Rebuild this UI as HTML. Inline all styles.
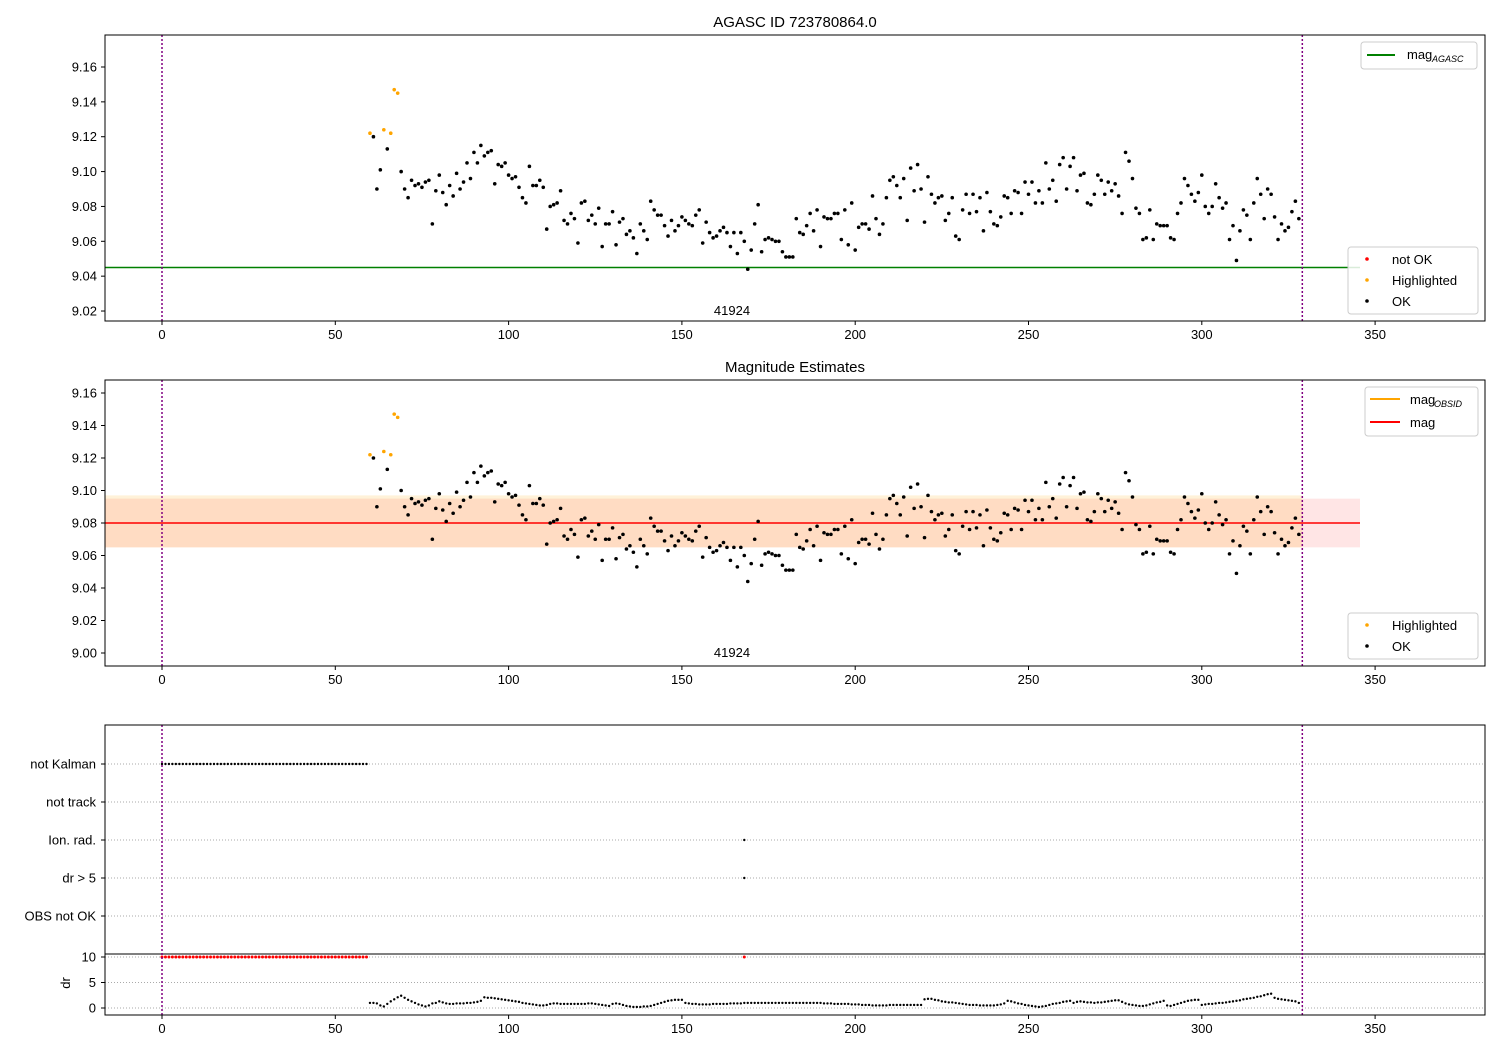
<!DOCTYPE html>
<html><head><meta charset="utf-8"><style>
body{margin:0;background:#fff}
svg{font-family:"Liberation Sans",sans-serif;display:block}
</style></head><body>
<svg id="fig" width="1500" height="1050" viewBox="0 0 1500 1050" xmlns="http://www.w3.org/2000/svg">
<rect width="1500" height="1050" fill="#fff"/>
<text x="795" y="27" font-size="15" text-anchor="middle">AGASC ID 723780864.0</text>
<text x="795" y="372" font-size="15" text-anchor="middle">Magnitude Estimates</text>
<g id="p1"></g>
<g id="p2"></g>
<g id="p3"></g>
</svg>
<script>
const obsX=[];for(let i=60;i<=328;i++)obsX.push(i);
const mags=[9.122,9.120,9.090,9.101,9.124,9.113,9.122,9.147,9.145,9.100,9.090,9.085,9.095,9.092,9.093,9.091,9.094,9.095,9.070,9.089,9.098,9.088,9.081,9.092,9.086,9.099,9.090,9.094,9.105,9.096,9.111,9.105,9.115,9.109,9.111,9.112,9.093,9.104,9.103,9.105,9.098,9.096,9.097,9.091,9.085,9.082,9.103,9.092,9.092,9.095,9.091,9.067,9.080,9.081,9.082,9.089,9.072,9.070,9.076,9.073,9.059,9.082,9.083,9.072,9.075,9.070,9.079,9.057,9.070,9.070,9.077,9.058,9.071,9.073,9.064,9.066,9.062,9.053,9.070,9.066,9.061,9.083,9.078,9.075,9.075,9.069,9.063,9.072,9.066,9.069,9.074,9.072,9.070,9.069,9.075,9.078,9.059,9.071,9.065,9.062,9.063,9.066,9.068,9.065,9.057,9.065,9.053,9.065,9.060,9.044,9.055,9.070,9.081,9.054,9.061,9.062,9.061,9.060,9.060,9.054,9.051,9.051,9.051,9.073,9.065,9.064,9.069,9.076,9.066,9.078,9.057,9.074,9.073,9.073,9.076,9.076,9.061,9.078,9.058,9.082,9.055,9.068,9.070,9.070,9.067,9.086,9.073,9.064,9.070,9.085,9.095,9.097,9.092,9.085,9.096,9.072,9.102,9.089,9.104,9.090,9.071,9.097,9.087,9.082,9.085,9.086,9.072,9.076,9.085,9.063,9.061,9.078,9.087,9.076,9.087,9.077,9.085,9.066,9.088,9.077,9.070,9.069,9.074,9.086,9.085,9.076,9.089,9.088,9.076,9.094,9.087,9.094,9.082,9.089,9.082,9.105,9.090,9.095,9.083,9.104,9.108,9.090,9.103,9.108,9.089,9.098,9.099,9.082,9.081,9.087,9.098,9.095,9.087,9.094,9.089,9.093,9.086,9.076,9.111,9.106,9.096,9.079,9.076,9.061,9.062,9.078,9.061,9.070,9.069,9.069,9.069,9.062,9.061,9.076,9.082,9.096,9.092,9.087,9.083,9.088,9.098,9.080,9.076,9.080,9.093,9.085,9.079,9.082,9.061,9.069,9.049,9.066,9.078,9.075,9.061,9.082,9.096,9.087,9.073,9.090,9.087,9.074,9.061,9.070,9.066,9.068,9.077,9.083,9.073];
const highlighted=[60,64,66,67,68];
const drVals=[
1.0,1.0,0.9,0.5,0.3,0.8,1.3,1.7,2.1,2.4,
2.0,1.6,1.3,1.0,0.7,0.5,0.3,0.5,0.9,1.0,
1.3,1.1,0.9,0.8,0.8,0.9,0.9,0.9,1.0,1.0,
1.1,1.2,1.4,2.1,2.0,2.0,1.9,1.8,1.7,1.6,
1.5,1.4,1.3,1.2,1.0,0.9,0.8,0.7,0.6,0.5,
0.5,0.6,0.8,0.9,0.9,0.8,0.8,0.8,0.8,0.8,
0.8,0.8,0.8,0.9,0.9,0.8,0.7,0.6,0.5,0.4,
0.8,0.9,0.8,0.6,0.4,0.3,0.2,0.2,0.2,0.3,
0.3,0.4,0.6,0.8,1.0,1.2,1.4,1.5,1.6,1.6,
1.6,1.0,0.9,0.8,0.8,0.7,0.7,0.7,0.7,0.8,
0.8,0.8,0.8,0.8,0.9,0.9,0.9,0.9,1.0,1.0,
1.0,1.0,1.0,1.0,1.0,1.0,1.0,1.0,1.0,1.0,
1.0,1.0,1.0,1.0,1.0,1.0,1.0,1.0,1.0,1.0,
1.0,0.9,0.9,0.9,0.8,0.8,0.8,0.8,0.8,0.7,
0.7,0.7,0.6,0.6,0.6,0.5,0.5,0.5,0.5,0.5,
0.6,0.6,0.6,0.6,0.6,0.6,0.6,0.6,0.6,0.6,
1.7,1.8,1.8,1.6,1.5,1.3,1.2,1.1,1.1,1.0,
0.9,0.8,0.7,0.6,0.6,0.6,0.5,0.5,0.5,0.5,
0.5,0.6,0.7,0.9,1.4,1.3,1.1,0.9,0.8,0.6,
0.5,0.4,0.3,0.2,0.3,0.4,0.6,0.8,0.9,1.0,
1.2,1.3,1.4,1.0,1.2,1.3,1.2,1.1,1.1,1.0,
1.1,1.1,1.2,1.3,1.4,1.5,1.5,1.2,0.9,0.7,
0.6,0.5,0.4,0.4,0.5,0.7,0.9,1.1,1.2,1.4,
0.5,0.4,0.6,0.8,1.0,1.2,1.4,1.5,1.6,1.6,
0.6,0.7,0.8,0.8,0.9,1.0,1.0,1.1,1.2,1.3,
1.4,1.5,1.7,1.8,1.9,2.0,2.2,2.3,2.5,2.7,
2.8,2.0,1.8,1.7,1.6,1.5,1.4,1.3,1.0];
const kalmanX=[];for(let i=0;i<60;i++)kalmanX.push(i);
const flagObs=[168];
const categories=["not Kalman","not track","Ion. rad.","dr > 5","OBS not OK"];
const xTicks=[0,50,100,150,200,250,300,350];
const p1Ticks=[9.02,9.04,9.06,9.08,9.10,9.12,9.14,9.16];
const p2Ticks=[9.00,9.02,9.04,9.06,9.08,9.10,9.12,9.14,9.16];
const drTicks=[0,5,10];
const magAgasc=9.045, magEst=9.080, magLo=9.065, magHi=9.095;
const obsEnd=329;

const NS="http://www.w3.org/2000/svg";
const sx=v=>162+v*3.466;
const y1=m=>67+(9.16-m)*1743;
const y2=m=>393+(9.16-m)*1625;
const cy=i=>764+i*38;
const yd=d=>1008-d*5.1;
function el(p,tag,a){const e=document.createElementNS(NS,tag);for(const k in a)e.setAttribute(k,a[k]);p.appendChild(e);return e;}
function txt(p,x,y,s,a){const e=el(p,'text',Object.assign({x:x,y:y,'font-size':13},a||{}));e.textContent=s;return e;}
function xAxis(g,top,bot){
  xTicks.forEach(t=>{const X=sx(t);
    const l=el(g,'line',{x1:X,x2:X,y1:bot,y2:bot+4,stroke:'#000'});
    
    
    const tt=txt(g,X,bot+18,String(t),{'text-anchor':'middle'});
    
    
  });
}
function vlines(g,top,bot){
  [0,obsEnd].forEach(v=>{const l=el(g,'line',{x1:sx(v),x2:sx(v),y1:top,y2:bot,stroke:'purple','stroke-width':1.5,'stroke-dasharray':'2,2'});
    
    });
}
function dots(g,ys,color,name){
  obsX.forEach((x,i)=>{const isH=highlighted.includes(x);
    if((color==='orange')!==isH)return;
    const c=el(g,'circle',{cx:sx(x),cy:ys(mags[i]),r:1.8,fill:color});
    
    });
}
function yTicks(g,ticks,ys){
  ticks.forEach(t=>{const Y=ys(t);
    el(g,'line',{x1:101,x2:105,y1:Y,y2:Y,stroke:'#000'});
    const tt=txt(g,97,Y+4.5,t.toFixed(2),{'text-anchor':'end'});
    
    });
}
function legendBox(g,x,y,w,h,name){const r=el(g,'rect',{x:x,y:y,width:w,height:h,rx:3,fill:'#fff','fill-opacity':0.85,stroke:'#ccc'});
  
  }

// Panel 1
const g1=document.getElementById('p1');
el(g1,'line',{x1:105,x2:1360,y1:y1(magAgasc),y2:y1(magAgasc),stroke:'green','stroke-width':1.5});
dots(g1,y1,'#000','ok-point');
dots(g1,y1,'orange','highlighted-point');
vlines(g1,35,321);
txt(g1,732,315,'41924',{'text-anchor':'middle'});
yTicks(g1,p1Ticks,y1);
el(g1,'rect',{x:105,y:35,width:1380,height:286,fill:'none',stroke:'#000'});
xAxis(g1,35,321);
legendBox(g1,1361,42,116,27,'legend-agasc');
el(g1,'line',{x1:1367,x2:1395,y1:55,y2:55,stroke:'green','stroke-width':2});
txt(g1,1407,59,'mag');
txt(g1,1432,62,'AGASC',{'font-size':9,'font-style':'italic'});
legendBox(g1,1348,247,130,67,'legend-status');
el(g1,'circle',{cx:1367,cy:259,r:1.8,fill:'red'});
txt(g1,1392,264,'not OK');
el(g1,'circle',{cx:1367,cy:280,r:1.8,fill:'orange'});
txt(g1,1392,285,'Highlighted');
el(g1,'circle',{cx:1367,cy:301,r:1.8,fill:'#000'});
txt(g1,1392,306,'OK');

// Panel 2
const g2=document.getElementById('p2');
el(g2,'rect',{x:105,y:y2(magHi),width:1360-105,height:y2(magLo)-y2(magHi),fill:'red','fill-opacity':0.1});
el(g2,'rect',{x:105,y:y2(magHi+0.002),width:sx(obsEnd)-105,height:y2(magLo)-y2(magHi+0.002),fill:'orange','fill-opacity':0.15});
el(g2,'line',{x1:105,x2:1360,y1:y2(magEst),y2:y2(magEst),stroke:'red','stroke-width':1.5});
dots(g2,y2,'#000','ok-point');
dots(g2,y2,'orange','highlighted-point');
vlines(g2,380,666);
txt(g2,732,657,'41924',{'text-anchor':'middle'});
yTicks(g2,p2Ticks,y2);
el(g2,'rect',{x:105,y:380,width:1380,height:286,fill:'none',stroke:'#000'});
xAxis(g2,380,666);
legendBox(g2,1365,387,113,49,'legend-mag');
el(g2,'line',{x1:1370,x2:1400,y1:399,y2:399,stroke:'orange','stroke-width':2});
txt(g2,1410,404,'mag');
txt(g2,1434,407,'OBSID',{'font-size':9,'font-style':'italic'});
el(g2,'line',{x1:1370,x2:1400,y1:422,y2:422,stroke:'red','stroke-width':2});
txt(g2,1410,427,'mag');
legendBox(g2,1348,613,130,46,'legend-status');
el(g2,'circle',{cx:1367,cy:625,r:1.8,fill:'orange'});
txt(g2,1392,630,'Highlighted');
el(g2,'circle',{cx:1367,cy:646,r:1.8,fill:'#000'});
txt(g2,1392,651,'OK');

// Panel 3
const g3=document.getElementById('p3');
categories.forEach((c,i)=>{
  el(g3,'line',{x1:105,x2:1485,y1:cy(i),y2:cy(i),stroke:'#aaa','stroke-dasharray':'1,2'});
  el(g3,'line',{x1:101,x2:105,y1:cy(i),y2:cy(i),stroke:'#000'});
  const t=txt(g3,96,cy(i)+4.5,c,{'text-anchor':'end'});
  
  
});
drTicks.forEach(t=>{
  el(g3,'line',{x1:105,x2:1485,y1:yd(t),y2:yd(t),stroke:'#aaa','stroke-dasharray':'1,2'});
  el(g3,'line',{x1:101,x2:105,y1:yd(t),y2:yd(t),stroke:'#000'});
  const tt=txt(g3,96,yd(t)+4.5,String(t),{'text-anchor':'end'});
  
  
});
kalmanX.forEach(x=>{
  const c=el(g3,'circle',{cx:sx(x),cy:cy(0),r:1.2,fill:'#000'});
  
  
  const r=el(g3,'circle',{cx:sx(x),cy:yd(10),r:1.5,fill:'red'});
  
  
});
flagObs.forEach(x=>{
  [2,3].forEach(i=>{const c=el(g3,'circle',{cx:sx(x),cy:cy(i),r:1.2,fill:'#000'});
    
    });
  const r=el(g3,'circle',{cx:sx(x),cy:yd(10),r:1.5,fill:'red'});
  
  
});
obsX.forEach((x,i)=>{if(drVals[i]===undefined)return;
  const c=el(g3,'circle',{cx:sx(x),cy:yd(drVals[i]),r:1.2,fill:'#000'});
  
  });
el(g3,'line',{x1:105,x2:1485,y1:954,y2:954,stroke:'#000'});
vlines(g3,725,1015);
el(g3,'rect',{x:105,y:725,width:1380,height:290,fill:'none',stroke:'#000'});
const dl=txt(g3,70,983,'dr',{'text-anchor':'middle',transform:'rotate(-90 70 983)'});


xAxis(g3,725,1015);
</script>
</body></html>
